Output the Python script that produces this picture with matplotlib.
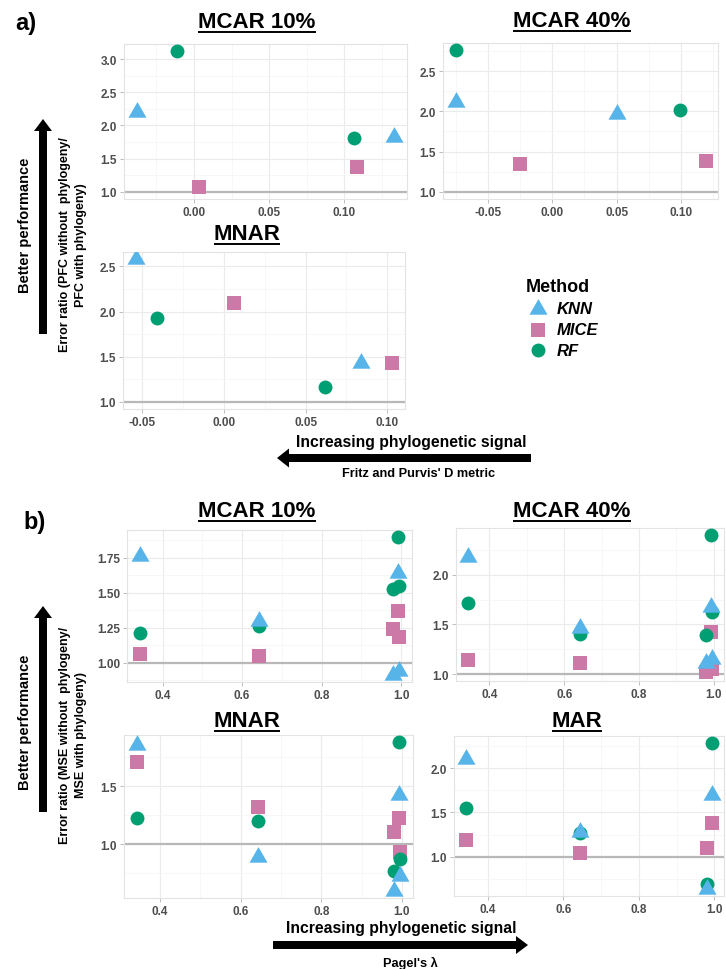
import numpy as np
import matplotlib
matplotlib.use("Agg")
import matplotlib.pyplot as plt
from matplotlib.patches import FancyArrow
from matplotlib.path import Path
from matplotlib.ticker import MultipleLocator, FormatStrFormatter

plt.rcParams['font.family'] = ['Liberation Sans', 'DejaVu Sans']
plt.rcParams['font.weight'] = 'bold'

# Farger per metod
methods = ['KNN', 'MICE', 'RF']
colors = {'KNN': '#56B4E9', 'MICE': '#CC79A7', 'RF': '#009E73'}

# --- a) Fritz and Purvis' D ---
a_mcar10_knn_x = [-0.038, 0.133]
a_mcar10_knn_y = [2.21, 1.83]
a_mcar10_mice_x = [0.003, 0.108]
a_mcar10_mice_y = [1.08, 1.38]
a_mcar10_rf_x = [-0.011, 0.106]
a_mcar10_rf_y = [3.12, 1.81]

a_mcar40_knn_x = [-0.075, 0.050]
a_mcar40_knn_y = [2.12, 1.97]
a_mcar40_mice_x = [-0.025, 0.119]
a_mcar40_mice_y = [1.35, 1.38]
a_mcar40_rf_x = [-0.075, 0.099]
a_mcar40_rf_y = [2.76, 2.02]

a_mnar_knn_x = [-0.054, 0.084]
a_mnar_knn_y = [2.58, 1.43]
a_mnar_mice_x = [0.006, 0.103]
a_mnar_mice_y = [2.09, 1.43]
a_mnar_rf_x = [-0.041, 0.062]
a_mnar_rf_y = [1.93, 1.16]

# --- b) Pagel's lambda ---
b_lambda = [0.343, 0.643, 0.98, 0.993, 0.995]
b_mcar10_knn = [1.76, 1.30, 0.91, 1.64, 0.94]
b_mcar10_mice = [1.06, 1.05, 1.24, 1.37, 1.18]
b_mcar10_rf = [1.21, 1.26, 1.53, 1.90, 1.55]
b_mcar40_knn = [2.18, 1.46, 1.11, 1.67, 1.15]
b_mcar40_mice = [1.14, 1.11, 1.02, 1.42, 1.05]
b_mcar40_rf = [1.72, 1.40, 1.39, 2.40, 1.62]
b_mnar_knn = [1.86, 0.89, 0.60, 1.43, 0.73]
b_mnar_mice = [1.71, 1.32, 1.11, 1.23, 0.93]
b_mnar_rf = [1.23, 1.20, 0.77, 1.88, 0.87]
b_mar_knn = [2.10, 1.28, 0.64, 1.70, np.nan]
b_mar_mice = [1.19, 1.04, 1.10, 1.38, np.nan]
b_mar_rf = [1.55, 1.27, 0.69, 2.28, np.nan]

W, H = 726, 970
fig = plt.figure(figsize=(W / 100, H / 100), dpi=100)

# overlay i pixelkoordinater for pilar och text
ov = fig.add_axes([0, 0, 1, 1])
ov.set_xlim(0, W)
ov.set_ylim(H, 0)
ov.axis('off')

tri = Path([(0, 1), (-0.866, -0.5), (0.866, -0.5), (0, 1)],
           [Path.MOVETO, Path.LINETO, Path.LINETO, Path.CLOSEPOLY])
markers = {'KNN': (tri, 15), 'MICE': ('s', 9.5), 'RF': ('o', 10)}


def panel(box, series, xstep, ystep, xfmt, yfmt):
    l, t, r, b = box
    ax = fig.add_axes([l / W, 1 - b / H, (r - l) / W, (b - t) / H])
    ax.axhline(1.0, color='#b8b8b8', lw=1.6, zorder=1.5)
    handles = []
    for m in ['MICE', 'RF', 'KNN']:
        x, y = series[m]
        x = np.asarray(x, float)
        y = np.asarray(y, float)
        ok = ~np.isnan(y)
        mk, ms = markers[m]
        h = ax.scatter(x[ok], y[ok], marker=mk, s=ms ** 2, color=colors[m],
                       linewidths=0, zorder=3, label=m)
        handles.append(h)
    ax.margins(0.05)
    ax.xaxis.set_major_locator(MultipleLocator(xstep))
    ax.xaxis.set_minor_locator(MultipleLocator(xstep / 2))
    ax.yaxis.set_major_locator(MultipleLocator(ystep))
    ax.yaxis.set_minor_locator(MultipleLocator(ystep / 2))
    ax.xaxis.set_major_formatter(FormatStrFormatter(xfmt))
    ax.yaxis.set_major_formatter(FormatStrFormatter(yfmt))
    ax.grid(True, which='major', color='#ebebeb', lw=0.8)
    ax.grid(True, which='minor', color='#f4f4f4', lw=0.5)
    ax.set_axisbelow(True)
    ax.tick_params(which='major', length=3, width=0.6, color='#b3b3b3',
                   labelcolor='#4d4d4d', labelsize=8.5, pad=2)
    ax.tick_params(which='minor', length=0)
    for s in ax.spines.values():
        s.set_color('#e3e3e3')
        s.set_linewidth(0.8)
    return ax, dict(zip(['MICE', 'RF', 'KNN'], handles))


ax1, hd = panel((124, 45, 407, 200),
                {'KNN': (a_mcar10_knn_x, a_mcar10_knn_y),
                 'MICE': (a_mcar10_mice_x, a_mcar10_mice_y),
                 'RF': (a_mcar10_rf_x, a_mcar10_rf_y)},
                0.05, 0.5, '%.2f', '%.1f')
panel((443, 44, 718, 200),
      {'KNN': (a_mcar40_knn_x, a_mcar40_knn_y),
       'MICE': (a_mcar40_mice_x, a_mcar40_mice_y),
       'RF': (a_mcar40_rf_x, a_mcar40_rf_y)},
      0.05, 0.5, '%.2f', '%.1f')
panel((123, 253, 405, 410),
      {'KNN': (a_mnar_knn_x, a_mnar_knn_y),
       'MICE': (a_mnar_mice_x, a_mnar_mice_y),
       'RF': (a_mnar_rf_x, a_mnar_rf_y)},
      0.05, 0.5, '%.2f', '%.1f')

panel((127, 531, 412, 683),
      {'KNN': (b_lambda, b_mcar10_knn), 'MICE': (b_lambda, b_mcar10_mice),
       'RF': (b_lambda, b_mcar10_rf)},
      0.2, 0.25, '%.1f', '%.2f')
panel((456, 529, 724, 682),
      {'KNN': (b_lambda, b_mcar40_knn), 'MICE': (b_lambda, b_mcar40_mice),
       'RF': (b_lambda, b_mcar40_rf)},
      0.2, 0.5, '%.1f', '%.1f')
panel((124, 736, 413, 899),
      {'KNN': (b_lambda, b_mnar_knn), 'MICE': (b_lambda, b_mnar_mice),
       'RF': (b_lambda, b_mnar_rf)},
      0.2, 0.5, '%.1f', '%.1f')
panel((454, 737, 724, 897),
      {'KNN': (b_lambda, b_mar_knn), 'MICE': (b_lambda, b_mar_mice),
       'RF': (b_lambda, b_mar_rf)},
      0.2, 0.5, '%.1f', '%.1f')

# panelrubriker (understrukna)
titles = [('MCAR 10%', 257, 28), ('MCAR 40%', 572, 27), ('MNAR', 247, 240),
          ('MCAR 10%', 257, 517), ('MCAR 40%', 572, 517),
          ('MNAR', 247, 727), ('MAR', 577, 727)]
title_objs = []
for txt, x, y in titles:
    title_objs.append(ov.text(x, y, txt, ha='center', va='baseline',
                              fontsize=16, fontweight='bold'))

ov.text(15, 30, 'a)', fontsize=17, fontweight='bold', va='baseline')
ov.text(23, 529, 'b)', fontsize=17, fontweight='bold', va='baseline')

# vertikala pilar
for y0, y1, yc_bp, yc_er, lab in [
        (335, 120, 225, 245, 'Error ratio (PFC without  phylogeny/\nPFC with phylogeny)'),
        (813, 607, 722, 735, 'Error ratio (MSE without  phylogeny/\nMSE with phylogeny)')]:
    ov.add_patch(FancyArrow(43, y0, 0, y1 - y0, width=8, head_width=18,
                            head_length=12, length_includes_head=True,
                            color='black', lw=0))
    ov.text(25, yc_bp, 'Better performance', rotation=90, ha='center',
            va='center', fontsize=10.5, fontweight='bold')
    ov.text(73, yc_er, lab, rotation=90, ha='center', va='center',
            multialignment='center', fontsize=9, fontweight='bold',
            linespacing=1.35)

# horisontella pilar
ov.add_patch(FancyArrow(531, 459, 277 - 531, 0, width=8, head_width=19,
                        head_length=12, length_includes_head=True,
                        color='black', lw=0))
ov.text(411, 443, 'Increasing phylogenetic signal', ha='center', va='center',
        fontsize=11.3, fontweight='bold')
ov.text(419, 474, "Fritz and Purvis' D metric", ha='center', va='center',
        fontsize=9.2, fontweight='bold')

ov.add_patch(FancyArrow(273, 946, 528 - 273, 0, width=8, head_width=18,
                        head_length=12, length_includes_head=True,
                        color='black', lw=0))
ov.text(401, 929, 'Increasing phylogenetic signal', ha='center', va='center',
        fontsize=11.3, fontweight='bold')
ov.text(410, 963, "Pagel's λ", ha='center', va='center',
        fontsize=9.2, fontweight='bold')

# legend
fig.legend([hd['KNN'], hd['MICE'], hd['RF']], methods, title='Method',
           loc='upper left', bbox_to_anchor=(517 / W, 1 - 271 / H),
           frameon=False, alignment='left', scatterpoints=1,
           prop=dict(weight='bold', style='italic', size=12),
           title_fontproperties=dict(weight='bold', size=13),
           handletextpad=0.4, labelspacing=0.35, borderpad=0, handlelength=1.5)

# understrykningar
fig.canvas.draw()
for t in title_objs:
    bb = t.get_window_extent()
    yy = H - bb.y0
    x0, x1 = bb.x0, bb.x1
    ov.plot([x0, x1], [yy - 0.5, yy - 0.5], color='black', lw=1.4,
            solid_capstyle='butt')

fig.savefig('out.png', dpi=100)
